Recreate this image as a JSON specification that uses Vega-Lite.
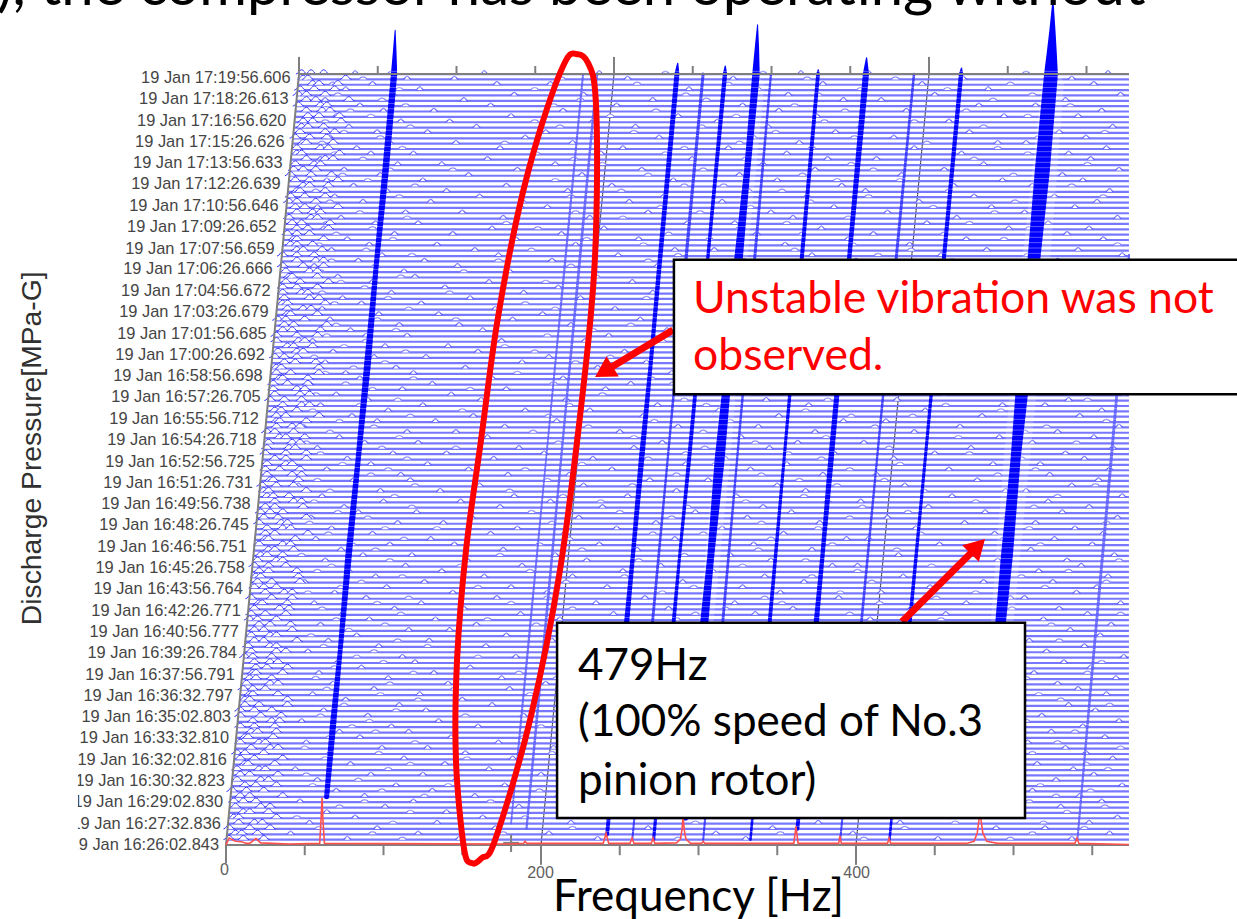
{"$schema":"https://vega.github.io/schema/vega-lite/v6.json","width":1237,"height":919,"padding":0,"autosize":{"type":"none"},"background":"white","view":{"stroke":null},
"datasets":{
"tr":[
{"t":1,"x":0.3,"b":[77,148,236,330,452,537],"d":[112,287,405,498],"c":[2,11,24]},
{"t":2,"x":0.6,"b":[41,122,205,311,398,561],"d":[93,176,352,512],"c":[6,10,20]},
{"t":3,"x":1,"b":[96,171,268,347,489,520],"d":[59,220,431,545],"c":[2,15,28]},
{"t":4,"x":1.3,"b":[53,134,219,376,428,548],"d":[106,298,463,519],"c":[8,18,23]},
{"t":5,"x":1.6,"b":[82,163,254,339,467,566],"d":[45,190,388,503],"c":[5,8,32]},
{"t":6,"x":1.9,"b":[64,140,228,305,411,505],"d":[117,263,359,534],"c":[11,15,27]},
{"t":7,"x":2.3,"b":[101,186,279,362,445,530],"d":[72,213,322,558],"c":[6,22,28]},
{"t":8,"x":2.6,"b":[47,119,243,326,393,556],"d":[88,168,471,510],"c":[5,11,19]},
{"t":9,"x":2.9,"b":[88,158,211,352,476,542],"d":[126,297,415,527],"c":[9,15,36]},
{"t":10,"x":3.2,"b":[70,131,264,318,436,512],"d":[99,199,380,549],"c":[4,13,24]},
{"t":11,"x":3.5,"b":[108,177,232,383,458,569],"d":[55,141,272,517],"c":[12,19,32]},
{"t":12,"x":3.9,"b":[58,146,296,344,421,527],"d":[84,242,365,483],"c":[7,22,27]},
{"t":13,"x":4.2,"b":[92,125,200,371,492,551],"d":[51,283,339,446],"c":[9,15,33]},
{"t":14,"x":4.5,"b":[44,167,249,313,404,538],"d":[103,213,459,560],"c":[7,21,25]},
{"t":15,"x":4.8,"b":[79,139,225,358,465,515],"d":[117,300,427,546],"c":[12,14,31]},
{"t":16,"x":5.2,"b":[113,182,272,334,441,563],"d":[63,153,377,498],"c":[9,18,36]},
{"t":17,"x":5.5,"b":[66,152,238,387,483,546],"d":[97,207,343,512],"c":[7,12,24]},
{"t":18,"x":5.8,"b":[99,128,208,321,414,533],"d":[50,265,449,568],"c":[16,28,33]},
{"t":19,"x":6.1,"b":[51,173,260,349,472,509],"d":[120,229,393,528],"c":[9,21,25]},
{"t":20,"x":6.4,"b":[85,143,291,366,429,558],"d":[66,189,318,501],"c":[12,14,30]},
{"t":21,"x":6.8,"b":[72,116,222,308,455,524],"d":[95,274,406,539],"c":[16,20,32]},
{"t":22,"x":7.1,"b":[105,160,247,378,497,544],"d":[80,200,332,440],"c":[9,18,31]},
{"t":23,"x":7.4,"b":[48,135,213,337,418,567],"d":[91,256,373,508],"c":[17,29,34]},
{"t":24,"x":7.7,"b":[90,189,283,355,462,518],"d":[60,152,237,423],"c":[9,22,35]},
{"t":25,"x":8.1,"b":[62,127,240,326,439,552],"d":[108,301,388,491],"c":[9,18,29]},
{"t":26,"x":8.4,"b":[110,169,256,391,478,535],"d":[75,215,349,561],"c":[12,21,39]},
{"t":27,"x":8.7,"b":[76,150,217,316,407,506],"d":[122,268,444,530],"c":[12,15,39]},
{"t":28,"x":9,"b":[55,123,275,343,449,559],"d":[98,193,381,516],"c":[15,17,33]},
{"t":29,"x":9.3,"b":[94,180,230,369,486,541],"d":[64,145,306,412],"c":[11,17,25]},
{"t":30,"x":9.7,"b":[68,141,203,329,425,528],"d":[104,249,362,469],"c":[13,28,33]},
{"t":31,"x":10,"b":[103,175,262,384,468,565],"d":[57,210,299,508],"c":[15,19,29]},
{"t":32,"x":10.3,"b":[59,132,244,310,399,513],"d":[119,186,442,547],"c":[17,19,36]},
{"t":33,"x":10.6,"b":[86,155,288,357,452,549],"d":[69,233,323,484],"c":[19,26,39]},
{"t":34,"x":10.9,"b":[71,120,221,340,433,532],"d":[100,278,394,556],"c":[18,28,33]},
{"t":35,"x":11.3,"b":[112,184,251,373,494,570],"d":[83,160,304,426],"c":[12,17,29]},
{"t":36,"x":11.6,"b":[52,147,234,319,412,521],"d":[94,203,350,466],"c":[16,32,38]},
{"t":37,"x":11.9,"b":[97,165,270,364,474,545],"d":[62,128,239,418],"c":[14,28,32]},
{"t":38,"x":12.2,"b":[65,129,207,332,443,510],"d":[109,293,391,529],"c":[18,24,45]},
{"t":39,"x":12.6,"b":[83,178,294,381,460,555],"d":[54,223,345,502],"c":[16,28,32]},
{"t":40,"x":12.9,"b":[116,142,226,348,423,536],"d":[78,255,384,488],"c":[18,24,42]},
{"t":41,"x":13.2,"b":[60,159,258,312,485,562],"d":[101,197,437,524],"c":[21,28,41]},
{"t":42,"x":13.5,"b":[91,133,212,375,409,519],"d":[70,166,286,454],"c":[15,20,32]},
{"t":43,"x":13.8,"b":[74,187,246,336,457,547],"d":[111,298,396,568],"c":[16,25,38]},
{"t":44,"x":14.2,"b":[107,151,281,360,435,529],"d":[61,220,317,499],"c":[18,34,40]},
{"t":45,"x":14.5,"b":[56,124,235,323,470,568],"d":[96,181,353,415],"c":[21,23,39]},
{"t":46,"x":14.8,"b":[89,172,266,389,498,507],"d":[116,204,342,451],"c":[16,29,42]},
{"t":47,"x":15.1,"b":[69,144,204,352,416,540],"d":[52,277,390,476],"c":[25,37,42]},
{"t":48,"x":15.5,"b":[102,181,242,328,447,553],"d":[73,160,297,520],"c":[18,24,32]},
{"t":49,"x":15.8,"b":[50,126,290,367,481,525],"d":[86,216,410,559],"c":[20,29,47]},
{"t":50,"x":16.1,"b":[95,164,220,342,430,560],"d":[112,253,372,505],"c":[19,22,46]},
{"t":51,"x":16.4,"b":[78,137,252,309,463,516],"d":[58,193,401,535],"c":[21,27,45]},
{"t":52,"x":16.7,"b":[114,188,276,385,401,543],"d":[67,149,328,448],"c":[18,27,38]},
{"t":53,"x":17.1,"b":[63,153,229,346,490,534],"d":[104,262,368,567],"c":[20,32,36]},
{"t":54,"x":17.4,"b":[87,118,209,320,427,564],"d":[48,174,291,473],"c":[22,26,36]},
{"t":55,"x":17.7,"b":[73,176,261,372,475,511],"d":[95,226,338,426],"c":[27,31,43]},
{"t":56,"x":18,"b":[104,145,237,335,453,550],"d":[80,199,385,517],"c":[21,36,41]},
{"t":57,"x":18.4,"b":[57,130,285,394,408,526],"d":[113,218,346,494],"c":[25,27,44]},
{"t":58,"x":18.7,"b":[93,168,215,354,488,557],"d":[65,271,303,441],"c":[25,31,52]},
{"t":59,"x":19,"b":[67,185,248,315,438,539],"d":[101,134,376,510],"c":[26,36,41]},
{"t":60,"x":19.3,"b":[109,138,273,377,469,514],"d":[53,207,340,559],"c":[21,35,39]},
{"t":61,"x":19.6,"b":[54,156,224,331,420,566],"d":[90,283,396,496],"c":[24,33,51]},
{"t":62,"x":20,"b":[84,121,298,359,482,531],"d":[71,194,250,433],"c":[22,28,36]},
{"t":63,"x":20.3,"b":[75,174,239,341,446,548],"d":[118,293,404,513],"c":[25,31,49]},
{"t":64,"x":20.6,"b":[100,149,206,382,403,522],"d":[56,238,330,476],"c":[31,43,48]},
{"t":65,"x":20.9,"b":[61,183,255,324,461,569],"d":[107,214,367,528],"c":[26,30,40]},
{"t":66,"x":21.3,"b":[98,136,286,368,495,508],"d":[66,180,312,443],"c":[24,27,51]},
{"t":67,"x":21.6,"b":[46,161,227,350,431,537],"d":[120,258,388,552],"c":[23,32,43]},
{"t":68,"x":21.9,"b":[81,117,269,306,477,554],"d":[58,204,364,418],"c":[28,30,46]},
{"t":69,"x":22.2,"b":[111,179,218,379,413,523],"d":[92,286,340,490],"c":[26,42,48]},
{"t":70,"x":22.5,"b":[64,154,245,333,459,561],"d":[103,190,396,514],"c":[25,34,47]},
{"t":71,"x":22.9,"b":[92,128,292,356,487,517],"d":[74,226,311,428],"c":[26,38,42]},
{"t":72,"x":23.2,"b":[77,170,233,317,424,545],"d":[115,268,378,505],"c":[31,38,51]},
{"t":73,"x":23.5,"b":[106,140,202,386,450,533],"d":[60,292,357,472],"c":[25,38,51]},
{"t":74,"x":23.8,"b":[58,186,259,345,473,563],"d":[99,146,304,421],"c":[26,40,44]},
{"t":75,"x":24.2,"b":[88,122,277,363,405,512],"d":[51,211,336,540],"c":[27,42,47]},
{"t":76,"x":24.5,"b":[72,166,223,327,491,551],"d":[110,259,381,465],"c":[34,38,50]},
{"t":77,"x":24.8,"b":[115,146,250,374,437,528],"d":[66,195,303,507],"c":[26,31,43]},
{"t":78,"x":25.1,"b":[49,177,287,338,466,567],"d":[94,230,412,521],"c":[32,42,47]},
{"t":79,"x":25.4,"b":[96,133,210,392,419,504],"d":[72,272,320,559],"c":[32,34,51]},
{"t":80,"x":25.8,"b":[80,157,265,351,480,542],"d":[117,205,397,436],"c":[32,38,59]},
{"t":81,"x":26.1,"b":[103,190,231,313,444,556],"d":[55,150,368,492],"c":[31,35,45]},
{"t":82,"x":26.4,"b":[60,125,274,370,493,520],"d":[85,218,305,457],"c":[36,48,53]},
{"t":83,"x":26.7,"b":[90,162,216,343,426,535],"d":[109,291,382,547],"c":[28,37,48]},
{"t":84,"x":27,"b":[70,143,299,388,456,570],"d":[57,239,331,503],"c":[31,47,53]},
{"t":85,"x":27.4,"b":[112,178,241,322,471,513],"d":[93,155,399,526],"c":[30,45,50]},
{"t":86,"x":27.7,"b":[53,131,257,365,410,546],"d":[76,208,284,479],"c":[30,39,52]},
{"t":87,"x":28,"b":[85,169,214,334,484,530],"d":[119,270,372,443],"c":[34,36,52]},
{"t":88,"x":28.3,"b":[76,119,283,380,441,558],"d":[63,185,314,499],"c":[32,41,59]},
{"t":89,"x":28.7,"b":[108,152,236,349,464,524],"d":[81,297,405,560],"c":[32,35,59]},
{"t":90,"x":29,"b":[63,188,267,307,496,541],"d":[101,222,359,452],"c":[37,44,57]},
{"t":91,"x":29.3,"b":[94,127,205,376,417,565],"d":[56,244,332,512],"c":[31,37,45]},
{"t":92,"x":29.6,"b":[68,160,253,330,451,509],"d":[114,196,389,480],"c":[33,45,49]},
{"t":93,"x":29.9,"b":[101,141,295,361,479,549],"d":[75,177,309,425],"c":[39,43,55]},
{"t":94,"x":30.3,"b":[55,175,228,393,432,527],"d":[89,277,347,561],"c":[32,46,50]},
{"t":95,"x":30.6,"b":[89,115,243,339,468,562],"d":[64,204,398,504],"c":[32,45,58]},
{"t":96,"x":30.9,"b":[79,163,280,358,402,516],"d":[108,233,319,455],"c":[36,42,60]},
{"t":97,"x":31.2,"b":[110,148,219,325,489,538],"d":[70,257,370,437],"c":[37,43,64]},
{"t":98,"x":31.6,"b":[66,182,263,383,448,552],"d":[96,146,301,518],"c":[33,38,50]},
{"t":99,"x":31.9,"b":[97,135,201,347,474,568],"d":[58,288,392,497],"c":[39,41,58]},
{"t":100,"x":32.2,"b":[61,171,247,311,422,506],"d":[116,209,363,541],"c":[39,49,54]},
{"t":101,"x":32.5,"b":[86,124,289,371,458,543],"d":[69,190,333,476],"c":[36,39,63]},
{"t":102,"x":32.8,"b":[74,155,225,336,485,532],"d":[103,267,409,554],"c":[37,53,59]},
{"t":103,"x":33.2,"b":[105,189,271,390,415,555],"d":[61,142,322,447],"c":[36,48,52]},
{"t":104,"x":33.5,"b":[59,139,211,353,439,519],"d":[88,299,375,492],"c":[36,45,58]},
{"t":105,"x":33.8,"b":[93,167,258,318,492,564],"d":[73,203,403,533],"c":[38,47,65]},
{"t":106,"x":34.1,"b":[71,120,297,367,460,536],"d":[111,235,343,423],"c":[40,42,58]},
{"t":107,"x":34.5,"b":[113,180,234,342,428,510],"d":[60,151,296,552],"c":[38,53,58]},
{"t":108,"x":34.8,"b":[56,147,274,384,477,550],"d":[95,219,356,505],"c":[36,49,62]},
{"t":109,"x":35.1,"b":[84,126,207,329,400,528],"d":[67,173,268,461],"c":[45,57,62]},
{"t":110,"x":35.4,"b":[99,173,249,372,454,569],"d":[118,287,414,509],"c":[36,45,56]},
{"t":111,"x":35.7,"b":[67,158,285,310,483,541],"d":[89,194,361,435],"c":[45,49,61]},
{"t":112,"x":36.1,"b":[91,134,222,355,434,515],"d":[59,265,398,566],"c":[41,45,55]},
{"t":113,"x":36.4,"b":[77,184,262,395,470,557],"d":[106,229,307,494],"c":[43,45,62]},
{"t":114,"x":36.7,"b":[107,144,213,337,411,534],"d":[70,281,366,456],"c":[39,45,53]},
{"t":115,"x":37,"b":[62,169,240,378,497,548],"d":[93,198,326,510],"c":[45,52,65]},
{"t":116,"x":37.4,"b":[95,122,293,323,445,522],"d":[64,178,356,472],"c":[42,48,66]},
{"t":117,"x":37.7,"b":[73,176,231,360,464,566],"d":[115,252,395,516],"c":[40,54,58]},
{"t":118,"x":38,"b":[114,150,268,346,420,507],"d":[85,222,301,488],"c":[45,55,60]},
{"t":119,"x":38.3,"b":[58,187,204,386,486,539],"d":[99,276,333,449],"c":[44,50,71]},
{"t":120,"x":38.6,"b":[87,130,256,315,440,553],"d":[66,188,371,501],"c":[40,45,57]},
{"t":121,"x":39,"b":[69,161,278,369,475,526],"d":[110,219,408,557],"c":[41,50,63]},
{"t":122,"x":39.3,"b":[102,140,217,332,406,561],"d":[57,251,353,459],"c":[45,47,63]},
{"t":123,"x":39.6,"b":[81,178,245,391,462,512],"d":[120,291,316,537],"c":[49,53,65]},
{"t":124,"x":39.9,"b":[64,125,284,350,493,544],"d":[90,209,388,428],"c":[44,53,71]},
{"t":125,"x":40.3,"b":[98,154,226,326,429,531],"d":[74,268,366,500],"c":[41,54,67]},
{"t":126,"x":40.6,"b":[75,185,264,374,456,567],"d":[104,144,303,411],"c":[43,49,57]},
{"t":127,"x":40.9,"b":[109,137,209,341,481,518],"d":[60,239,397,547],"c":[44,56,60]},
{"t":128,"x":41.2,"b":[60,166,296,382,413,549],"d":[87,221,330,475],"c":[51,63,68]},
{"t":129,"x":41.5,"b":[92,119,238,356,467,535],"d":[69,197,279,509],"c":[45,48,72]},
{"t":130,"x":41.9,"b":[83,174,252,319,437,559],"d":[112,291,372,490],"c":[45,60,65]},
{"t":131,"x":42.2,"b":[104,146,220,364,490,508],"d":[61,177,326,445],"c":[49,51,68]},
{"t":132,"x":42.5,"b":[66,190,275,335,424,546],"d":[98,235,399,516],"c":[44,53,64]},
{"t":133,"x":42.8,"b":[96,128,203,387,472,529],"d":[75,259,349,558],"c":[47,63,69]},
{"t":134,"x":43.1,"b":[78,159,260,344,403,563],"d":[117,212,302,481],"c":[48,52,62]},
{"t":135,"x":43.5,"b":[111,142,233,312,459,520],"d":[63,196,380,437],"c":[49,55,73]},
{"t":136,"x":43.8,"b":[70,181,287,375,494,541],"d":[92,244,324,509],"c":[52,59,72]},
{"t":137,"x":44.1,"b":[100,132,214,351,432,556],"d":[79,273,393,470],"c":[51,61,66]},
{"t":138,"x":44.4,"b":[85,168,248,328,478,514],"d":[114,208,361,536],"c":[46,60,64]},
{"t":139,"x":44.8,"b":[63,151,271,392,416,533],"d":[99,225,305,487],"c":[51,57,78]},
{"t":140,"x":45.1,"b":[106,183,227,357,450,568],"d":[71,292,376,512],"c":[46,51,63]},
{"t":141,"x":45.4,"b":[76,123,294,338,484,525],"d":[110,196,403,458],"c":[47,56,69]},
{"t":142,"x":45.7,"b":[93,172,206,379,442,551],"d":[68,261,319,498],"c":[55,59,71]},
{"t":143,"x":46,"b":[115,145,255,322,468,537],"d":[87,213,369,425],"c":[49,52,76]},
{"t":144,"x":46.4,"b":[82,164,237,365,408,560],"d":[105,279,341,508],"c":[48,54,62]}
],
"ridges":[
{"r":"A","k":"strong","x":63.9,"t":9,"a":4},{"r":"A","k":"strong","x":67.8,"t":22,"a":5},{"r":"A","k":"strong","x":72.4,"t":36,"a":3.8},{"r":"A","k":"strong","x":77.8,"t":54,"a":5.2},{"r":"A","k":"strong","x":83.9,"t":72,"a":4.2},{"r":"A","k":"strong","x":89.9,"t":90,"a":5.4},{"r":"A","k":"strong","x":95.3,"t":108,"a":4},{"r":"A","k":"strong","x":101.3,"t":126,"a":5.2},{"r":"A","k":"strong","x":106.7,"t":144,"a":5},{"r":"A","k":"strong","x":107.1,"t":148,"a":3},{"r":"A","k":"strong","x":107.4,"t":152.2,"a":0.8},
{"r":"B","k":"weak","x":181,"t":4,"a":1.4},{"r":"B","k":"weak","x":191.5,"t":36,"a":1.8},{"r":"B","k":"weak","x":203.2,"t":72,"a":1.4},{"r":"B","k":"weak","x":215,"t":108,"a":1.8},{"r":"B","k":"weak","x":226.7,"t":144,"a":1.6},
{"r":"C","k":"weak","x":190.8,"t":3,"a":1.8},{"r":"C","k":"weak","x":201.3,"t":36,"a":2.2},{"r":"C","k":"weak","x":212.7,"t":72,"a":1.8},{"r":"C","k":"weak","x":224.2,"t":108,"a":2.2},{"r":"C","k":"weak","x":235.6,"t":144,"a":1.8},
{"r":"D","k":"strong","x":242,"t":2,"a":3},{"r":"D","k":"strong","x":252.6,"t":36,"a":4.4},{"r":"D","k":"strong","x":258.3,"t":54,"a":3.4},{"r":"D","k":"strong","x":263.8,"t":72,"a":4.4},{"r":"D","k":"strong","x":269.7,"t":90,"a":3.2},{"r":"D","k":"strong","x":275.1,"t":108,"a":3.6},{"r":"D","k":"strong","x":286.3,"t":144,"a":4},{"r":"D","k":"strong","x":286.8,"t":146,"a":1},
{"r":"E","k":"medium","x":258,"t":1,"a":1.6},{"r":"E","k":"medium","x":269,"t":36,"a":2.4},{"r":"E","k":"medium","x":280.4,"t":72,"a":1.8},{"r":"E","k":"medium","x":291.6,"t":108,"a":2.6},{"r":"E","k":"medium","x":302.9,"t":144,"a":2.4},
{"r":"F","k":"strong","x":271.5,"t":1,"a":2.5},{"r":"F","k":"strong","x":282.5,"t":36,"a":3.4},{"r":"F","k":"strong","x":288,"t":54,"a":2.4},{"r":"F","k":"strong","x":294,"t":72,"a":3.2},{"r":"F","k":"strong","x":305.4,"t":108,"a":2.6},{"r":"F","k":"strong","x":316.8,"t":144,"a":3.5},{"r":"F","k":"strong","x":317,"t":145.5,"a":1},
{"r":"G","k":"strong","x":291.8,"t":5,"a":4},{"r":"G","k":"strong","x":301.8,"t":36,"a":7},{"r":"G","k":"strong","x":307.8,"t":54,"a":5.5},{"r":"G","k":"strong","x":313.4,"t":72,"a":8},{"r":"G","k":"strong","x":319.3,"t":90,"a":6},{"r":"G","k":"strong","x":324.9,"t":108,"a":7},{"r":"G","k":"strong","x":330.9,"t":126,"a":5},{"r":"G","k":"strong","x":336.5,"t":144,"a":6},{"r":"G","k":"strong","x":337.1,"t":149,"a":3.4},{"r":"G","k":"strong","x":337.5,"t":153.2,"a":0.8},
{"r":"H","k":"medium","x":303,"t":1,"a":1.6},{"r":"H","k":"medium","x":313.7,"t":36,"a":2.4},{"r":"H","k":"medium","x":324.5,"t":72,"a":1.8},{"r":"H","k":"medium","x":335.2,"t":108,"a":2.4},{"r":"H","k":"medium","x":346,"t":144,"a":1.8},
{"r":"I","k":"strong","x":333,"t":1,"a":2},{"r":"I","k":"strong","x":343.5,"t":36,"a":3.2},{"r":"I","k":"strong","x":354.3,"t":72,"a":2.4},{"r":"I","k":"strong","x":365.1,"t":108,"a":3.2},{"r":"I","k":"strong","x":375.9,"t":144,"a":3},{"r":"I","k":"strong","x":376,"t":144.8,"a":1},
{"r":"J","k":"strong","x":362.8,"t":3,"a":3},{"r":"J","k":"strong","x":373,"t":36,"a":4.4},{"r":"J","k":"strong","x":378.7,"t":54,"a":3.4},{"r":"J","k":"strong","x":384.1,"t":72,"a":4.4},{"r":"J","k":"strong","x":395.2,"t":108,"a":3.4},{"r":"J","k":"strong","x":406.3,"t":144,"a":5},{"r":"J","k":"strong","x":406.7,"t":147,"a":1},
{"r":"K","k":"medium","x":390,"t":1,"a":1.6},{"r":"K","k":"medium","x":401.6,"t":36,"a":2.2},{"r":"K","k":"medium","x":413.3,"t":72,"a":1.8},{"r":"K","k":"medium","x":425,"t":108,"a":2.4},{"r":"K","k":"medium","x":436.8,"t":144,"a":2},
{"r":"L","k":"strong","x":421.3,"t":1,"a":2},{"r":"L","k":"strong","x":432.4,"t":36,"a":3},{"r":"L","k":"strong","x":443.9,"t":72,"a":2.4},{"r":"L","k":"strong","x":455.3,"t":108,"a":3.2},{"r":"L","k":"strong","x":466.7,"t":144,"a":3.5},{"r":"L","k":"strong","x":467,"t":145.1,"a":1},
{"r":"M","k":"strong","x":481,"t":8,"a":5},{"r":"M","k":"strong","x":490,"t":36,"a":8},{"r":"M","k":"strong","x":495.8,"t":54,"a":9.5},{"r":"M","k":"strong","x":501.3,"t":72,"a":8},{"r":"M","k":"strong","x":507,"t":90,"a":11},{"r":"M","k":"strong","x":512.5,"t":108,"a":10},{"r":"M","k":"strong","x":518.3,"t":126,"a":12},{"r":"M","k":"strong","x":523.8,"t":144,"a":11},{"r":"M","k":"strong","x":524.3,"t":148,"a":8},{"r":"M","k":"strong","x":524.7,"t":152,"a":5},{"r":"M","k":"strong","x":525,"t":156.9,"a":1.5},
{"r":"N","k":"weak","x":540.6,"t":1,"a":1.6},{"r":"N","k":"weak","x":551,"t":36,"a":2.2},{"r":"N","k":"weak","x":562,"t":72,"a":2.4},{"r":"N","k":"weak","x":573.3,"t":110.2,"a":1.8}
],
"skirts":[
{"r":"M","x":482,"t":10,"a":14},{"r":"M","x":491,"t":36,"a":22},{"r":"M","x":502,"t":72,"a":26},{"r":"M","x":514,"t":108,"a":28},{"r":"M","x":525,"t":142,"a":22},
{"r":"G","x":293,"t":8,"a":8},{"r":"G","x":303,"t":36,"a":14},{"r":"G","x":315,"t":72,"a":16},{"r":"G","x":326,"t":108,"a":14},{"r":"G","x":338,"t":142,"a":12}
],
"axes":[
{"x":0,"t":0,"x2":573.3,"y2":0},{"x":46.35,"t":144,"x2":573.3,"y2":144},{"x":0,"t":0,"x2":46.35,"y2":144},{"x":46.35,"t":144,"x2":46.35,"y2":147.2},{"x":0,"t":0,"x2":0,"y2":-3.4},
{"x":50,"t":0,"x2":50,"y2":-1.9},{"x":100,"t":0,"x2":100,"y2":-1.9},{"x":150,"t":0,"x2":150,"y2":-1.9},{"x":200,"t":0,"x2":200,"y2":-3.7},{"x":250,"t":0,"x2":250,"y2":-1.9},{"x":300,"t":0,"x2":300,"y2":-1.9},{"x":350,"t":0,"x2":350,"y2":-1.9},{"x":400,"t":0,"x2":400,"y2":-3.7},{"x":450,"t":0,"x2":450,"y2":-1.9},{"x":500,"t":0,"x2":500,"y2":-1.9},{"x":550,"t":0,"x2":550,"y2":-1.9},
{"x":96.35,"t":144,"x2":96.35,"y2":145.5},{"x":146.35,"t":144,"x2":146.35,"y2":145.5},{"x":196.35,"t":144,"x2":196.35,"y2":145.5},{"x":246.35,"t":144,"x2":246.35,"y2":147.2},{"x":296.35,"t":144,"x2":296.35,"y2":145.5},{"x":346.35,"t":144,"x2":346.35,"y2":145.5},{"x":396.35,"t":144,"x2":396.35,"y2":145.5},{"x":446.35,"t":144,"x2":446.35,"y2":147.2},{"x":496.35,"t":144,"x2":496.35,"y2":145.5},{"x":546.35,"t":144,"x2":546.35,"y2":145.5},
{"x":181,"t":1.9,"x2":181,"y2":-1.3},{"x":176,"t":0.4,"x2":186,"y2":0.4}
],
"grid":[{"x":200,"t":0,"x2":246.35,"y2":144},{"x":400,"t":0,"x2":446.35,"y2":144}],
"red":[
{"x":0,"t":0},{"x":2,"t":1.3},{"x":6,"t":0.7},{"x":10,"t":0.6},{"x":13,"t":0.3},{"x":15,"t":0.3},{"x":19,"t":1.2},{"x":22,"t":0.4},{"x":40,"t":0.2},{"x":59.5,"t":0.3},{"x":60.3,"t":4.5},{"x":61,"t":8.8},{"x":61.6,"t":4.5},{"x":62.5,"t":0.3},{"x":180,"t":0.2},{"x":189,"t":0.3},{"x":189.8,"t":0.7},{"x":191,"t":0.3},{"x":239.5,"t":0.3},{"x":241.3,"t":2.2},{"x":243,"t":0.3},{"x":256.5,"t":0.3},{"x":257.8,"t":1.3},{"x":259,"t":0.3},{"x":270,"t":0.3},{"x":271.1,"t":1.3},{"x":272.3,"t":0.3},{"x":286,"t":0.4},{"x":288.5,"t":1.1},{"x":289.5,"t":2.8},{"x":290.2,"t":5.2},{"x":291,"t":2.8},{"x":292,"t":1.1},{"x":295,"t":0.3},{"x":302,"t":0.3},{"x":303,"t":0.7},{"x":304,"t":0.3},{"x":360.5,"t":0.3},{"x":361.9,"t":3.5},{"x":363.2,"t":0.3},{"x":389,"t":0.3},{"x":389.8,"t":1.7},{"x":390.7,"t":0.3},{"x":420,"t":0.3},{"x":421,"t":1.3},{"x":422,"t":0.3},{"x":470,"t":0.3},{"x":475,"t":0.7},{"x":477,"t":2.3},{"x":478,"t":4.6},{"x":478.7,"t":8.4},{"x":479.4,"t":4.6},{"x":480.5,"t":2.3},{"x":483,"t":0.7},{"x":490,"t":0.3},{"x":539,"t":0.3},{"x":540.3,"t":1.3},{"x":541.5,"t":0.3},{"x":573.3,"t":0.1}
],
"labels":[
{"x":-4.4,"t":0,"label":"19 Jan 16:26:02.843"},{"x":-3.2,"t":4,"label":"19 Jan 16:27:32.836"},{"x":-1.9,"t":8,"label":"19 Jan 16:29:02.830"},{"x":-0.7,"t":11.9,"label":"19 Jan 16:30:32.823"},{"x":0.6,"t":15.9,"label":"19 Jan 16:32:02.816"},{"x":1.9,"t":19.9,"label":"19 Jan 16:33:32.810"},{"x":3.1,"t":23.9,"label":"19 Jan 16:35:02.803"},{"x":4.4,"t":27.9,"label":"19 Jan 16:36:32.797"},{"x":5.6,"t":31.8,"label":"19 Jan 16:37:56.791"},{"x":6.9,"t":35.8,"label":"19 Jan 16:39:26.784"},{"x":8.2,"t":39.8,"label":"19 Jan 16:40:56.777"},{"x":9.4,"t":43.8,"label":"19 Jan 16:42:26.771"},{"x":10.7,"t":47.8,"label":"19 Jan 16:43:56.764"},{"x":12,"t":51.7,"label":"19 Jan 16:45:26.758"},{"x":13.2,"t":55.7,"label":"19 Jan 16:46:56.751"},{"x":14.5,"t":59.7,"label":"19 Jan 16:48:26.745"},{"x":15.7,"t":63.7,"label":"19 Jan 16:49:56.738"},{"x":17,"t":67.7,"label":"19 Jan 16:51:26.731"},{"x":18.3,"t":71.6,"label":"19 Jan 16:52:56.725"},{"x":19.5,"t":75.6,"label":"19 Jan 16:54:26.718"},{"x":20.8,"t":79.6,"label":"19 Jan 16:55:56.712"},{"x":22,"t":83.6,"label":"19 Jan 16:57:26.705"},{"x":23.3,"t":87.6,"label":"19 Jan 16:58:56.698"},{"x":24.6,"t":91.5,"label":"19 Jan 17:00:26.692"},{"x":25.8,"t":95.5,"label":"19 Jan 17:01:56.685"},{"x":27.1,"t":99.5,"label":"19 Jan 17:03:26.679"},{"x":28.3,"t":103.5,"label":"19 Jan 17:04:56.672"},{"x":29.6,"t":107.5,"label":"19 Jan 17:06:26.666"},{"x":30.9,"t":111.4,"label":"19 Jan 17:07:56.659"},{"x":32.1,"t":115.4,"label":"19 Jan 17:09:26.652"},{"x":33.4,"t":119.4,"label":"19 Jan 17:10:56.646"},{"x":34.7,"t":123.4,"label":"19 Jan 17:12:26.639"},{"x":35.9,"t":127.4,"label":"19 Jan 17:13:56.633"},{"x":37.2,"t":131.3,"label":"19 Jan 17:15:26.626"},{"x":38.4,"t":135.3,"label":"19 Jan 17:16:56.620"},{"x":39.7,"t":139.3,"label":"19 Jan 17:18:26.613"},{"x":41,"t":143.3,"label":"19 Jan 17:19:56.606"}
],
"ellipse":[
{"o":1,"x":223.5,"t":147.7},{"o":2,"x":229.8,"t":146.1},{"o":3,"x":234.3,"t":141},{"o":4,"x":235.6,"t":126.1},{"o":5,"x":233.7,"t":106.8},{"o":6,"x":226.7,"t":85},{"o":7,"x":212.1,"t":51.4},{"o":8,"x":193,"t":23.3},{"o":9,"x":170.8,"t":0.9},{"o":10,"x":162.5,"t":-2.4},{"o":11,"x":156.2,"t":-3.4},{"o":12,"x":151.1,"t":-0.6},{"o":13,"x":146,"t":15.9},{"o":14,"x":146.7,"t":34.6},{"o":15,"x":152.4,"t":55.1},{"o":16,"x":161.9,"t":75.6},{"o":17,"x":172.1,"t":97.5},{"o":18,"x":185.4,"t":118},{"o":19,"x":199.4,"t":133.5},{"o":20,"x":215.2,"t":146.2}
]
},
"encoding":{
"x":{"field":"x","type":"quantitative","axis":null,"scale":{"domain":[-143.49,641.9],"nice":false,"zero":false}},
"y":{"field":"t","type":"quantitative","axis":null,"scale":{"domain":[-13.82,157.83],"nice":false,"zero":false}}
},
"layer":[
{"data":{"name":"grid"},"mark":{"type":"rule","stroke":"#404040","strokeWidth":1.2},"encoding":{"x2":{"field":"x2"},"y2":{"field":"y2"}}},
{"data":{"name":"tr"},"mark":{"type":"rule","stroke":"#7878ff","strokeWidth":2.2},"encoding":{"x2":{"datum":573.3}}},
{"data":{"name":"tr"},"transform":[{"flatten":["d"]}],"mark":{"type":"point","shape":"M-1,0 C-0.6,-0.9 0.6,-0.9 1,0","size":60,"filled":true,"fill":"white","fillOpacity":1,"stroke":"#8080ff","strokeWidth":1.2,"opacity":1},"encoding":{"x":{"field":"d","type":"quantitative"}}},
{"data":{"name":"tr"},"transform":[{"flatten":["b"]}],"mark":{"type":"point","shape":"M-1,0 C-0.5,0 -0.5,-0.75 0,-0.75 C0.5,-0.75 0.5,0 1,0","size":70,"filled":true,"fill":"white","fillOpacity":1,"stroke":"#6060ff","strokeWidth":1.2,"opacity":1},"encoding":{"x":{"field":"b","type":"quantitative"}}},
{"data":{"name":"tr"},"transform":[{"flatten":["c"]}],"mark":{"type":"point","shape":"M-1,0 C-0.5,0 -0.5,-0.75 0,-0.75 C0.5,-0.75 0.5,0 1,0","size":130,"filled":true,"fill":"white","fillOpacity":1,"stroke":"#3030ff","strokeWidth":1,"opacity":1},"encoding":{"x":{"field":"c","type":"quantitative"}}},
{"data":{"name":"skirts"},"mark":{"type":"trail","color":"#ffffff","opacity":0.2},"encoding":{"detail":{"field":"r"},"order":{"field":"t","type":"quantitative"},"size":{"field":"a","type":"quantitative","scale":null,"legend":null}}},
{"data":{"name":"ridges"},"mark":{"type":"trail"},"encoding":{"detail":{"field":"r"},"order":{"field":"t","type":"quantitative"},"color":{"field":"k","type":"nominal","legend":null,"scale":{"domain":["strong","medium","weak"],"range":["#0000ff","#3c3cff","#6464ff"]}},"size":{"field":"a","type":"quantitative","legend":null,"scale":{"type":"linear","domain":[0,10],"range":[0,12.5]}}}},
{"data":{"name":"tr"},"mark":{"type":"rule","stroke":"#ffffff","strokeWidth":1,"opacity":0.35,"yOffset":-2.7},"encoding":{"x2":{"datum":573.3}}},
{"data":{"name":"axes"},"mark":{"type":"rule","stroke":"#7f7f7f","strokeWidth":2},"encoding":{"x2":{"field":"x2"},"y2":{"field":"y2"}}},
{"data":{"name":"red"},"mark":{"type":"line","stroke":"#ff5050","strokeWidth":1.6},"encoding":{"order":{"field":"x","type":"quantitative"}}},
{"data":{"name":"labels"},"mark":{"type":"text","align":"right","baseline":"middle","font":"Liberation Sans","fontSize":16.4,"fill":"#454545"},"encoding":{"text":{"field":"label"}}},
{"data":{"values":[{"x":-143.49,"x2":-94,"t":-6,"y2":24}]},"mark":{"type":"rect","fill":"white"},"encoding":{"x2":{"field":"x2"},"y2":{"field":"y2"}}},
{"data":{"values":[{"x":-122.5,"t":74.1,"label":"Discharge Pressure[MPa-G]"}]},"mark":{"type":"text","align":"center","baseline":"middle","angle":270,"font":"Liberation Sans","fontSize":28.3,"fill":"#303030"},"encoding":{"text":{"field":"label"}}},
{"data":{"values":[{"x":-1,"t":-4.7,"label":"0"},{"x":199.7,"t":-5.2,"label":"200"},{"x":400.4,"t":-5.2,"label":"400"}]},"mark":{"type":"text","align":"center","baseline":"middle","font":"Liberation Sans","fontSize":16,"fill":"#606060"},"encoding":{"text":{"field":"label"}}},
{"data":{"values":[{"x":283.8,"t":96.2,"g":"a"},{"x":239.9,"t":88.4,"g":"a"},{"x":429.2,"t":41.7,"g":"b"},{"x":477.3,"t":55.8,"g":"b"}]},"mark":{"type":"line","stroke":"#ff0000","strokeWidth":7},"encoding":{"detail":{"field":"g"}}},
{"data":{"values":[{"x":239.9,"t":88.4,"dir":239},{"x":477.3,"t":55.8,"dir":45}]},"mark":{"type":"point","shape":"triangle-up","size":560,"filled":true,"fill":"#ff0000","stroke":null,"opacity":1},"encoding":{"angle":{"field":"dir","type":"quantitative","scale":null}}},
{"data":{"values":[{"x":284.4,"x2":643.8,"t":109.3,"y2":84.2},{"x":210.2,"x2":507.3,"t":41.5,"y2":5.04}]},"mark":{"type":"rect","fill":"white","stroke":"#000000","strokeWidth":2.5},"encoding":{"x2":{"field":"x2"},"y2":{"field":"y2"}}},
{"data":{"name":"ellipse"},"mark":{"type":"line","stroke":"#ff0000","strokeWidth":6,"interpolate":"cardinal-closed"},"encoding":{"order":{"field":"o","type":"quantitative"}}},
{"data":{"values":[{"x":296.5,"t":99.4,"label":"Unstable vibration was not"},{"x":296.5,"t":88.7,"label":"observed."}]},"mark":{"type":"text","align":"left","baseline":"alphabetic","font":"Lato","fontSize":44.5,"fill":"#ff0000"},"encoding":{"text":{"field":"label"}}},
{"data":{"values":[{"x":223.5,"t":30.8,"label":"479Hz"},{"x":223.5,"t":20.4,"label":"(100% speed of No.3"},{"x":223.5,"t":9.3,"label":"pinion rotor)"},{"x":207.6,"t":-12.3,"label":"Frequency [Hz]"}]},"mark":{"type":"text","align":"left","baseline":"alphabetic","font":"Lato","fontSize":44,"fill":"#000000"},"encoding":{"text":{"field":"label"}}},
{"data":{"values":[{"x":-145.4,"t":156.9,"label":"), the compressor has been operating without"}]},"mark":{"type":"text","align":"left","baseline":"alphabetic","font":"Lato","fontSize":58,"fill":"#000000"},"encoding":{"text":{"field":"label"}}}
]}
